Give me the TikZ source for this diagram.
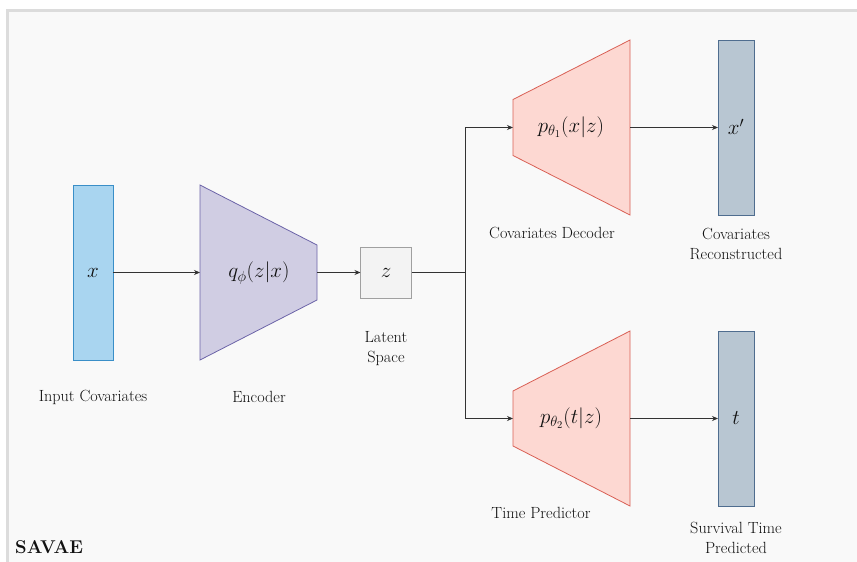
\RequirePackage{fix-cm}
\documentclass[tikz,border=0pt]{standalone}
\usetikzlibrary{arrows.meta,calc}
\definecolor{bgc}{HTML}{F9F9F9}
\definecolor{bgline}{HTML}{DCDCDC}
\definecolor{infill}{HTML}{A9D5F0}
\definecolor{inline}{HTML}{3A8FC8}
\definecolor{encfill}{HTML}{D0CDE3}
\definecolor{encline}{HTML}{6C64A8}
\definecolor{zfill}{HTML}{F3F3F3}
\definecolor{zline}{HTML}{A0A0A0}
\definecolor{decfill}{HTML}{FDD8D2}
\definecolor{decline}{HTML}{D96055}
\definecolor{outfill}{HTML}{B8C6D2}
\definecolor{outline}{HTML}{4F6D8F}
\definecolor{txt}{HTML}{111111}
\definecolor{arr}{HTML}{333333}
\begin{document}
\begin{tikzpicture}[x=1pt,y=-1pt,
  lbl/.style={font=\fontsize{16.2}{20}\selectfont, text=txt, align=center, inner sep=0pt},
  mth/.style={font=\fontsize{21}{24}\selectfont, text=txt, inner sep=0pt},
  ghost/.style={draw=none, inner sep=0pt, outer sep=0pt},
  conn/.style={draw=arr, line width=0.8pt, -{Stealth[length=6pt,width=5pt]}},
  plain/.style={draw=arr, line width=0.8pt}]
\useasboundingbox (0,0) rectangle (857,562);
\fill[white] (0,0) rectangle (857,562);
\fill[bgc] (7,10) rectangle (857,562);
\draw[bgline, line width=3pt] (7.5,562) -- (7.5,10.5) -- (857,10.5);

% input
\node[ghost, draw=inline, fill=infill, line width=0.8pt, minimum width=40pt, minimum height=175pt] (xin) at (93,272.5) {};
\node[mth] (xint) at (93,273) {$x$};
% encoder
\node[ghost, minimum width=117pt, minimum height=175pt] (enc) at (258.5,272.5) {};
\draw[draw=encline, fill=encfill, line width=0.8pt] (enc.north west) -- (317,245) -- (317,300) -- (enc.south west) -- cycle;
\node[mth] (enct) at (259,273) {$q_\phi(z|x)$};
% latent
\node[ghost, draw=zline, fill=zfill, line width=0.8pt, minimum width=51pt, minimum height=51pt] (z) at (386,272.5) {};
\node[mth] (zt) at (386,273) {$z$};
\coordinate (split) at (465,272.5);
% decoder
\node[ghost, minimum width=117pt, minimum height=175pt] (dec) at (571.5,127.5) {};
\draw[draw=decline, fill=decfill, line width=0.8pt] (513,99.5) -- (dec.north east) -- (dec.south east) -- (513,155.5) -- cycle;
\node[mth] (dect) at (571,127) {$p_{\theta_1}(x|z)$};
% time predictor
\node[ghost, minimum width=117pt, minimum height=175pt] (tp) at (571.5,418.5) {};
\draw[draw=decline, fill=decfill, line width=0.8pt] (513,391) -- (tp.north east) -- (tp.south east) -- (513,446) -- cycle;
\node[mth] (tpt) at (571,418) {$p_{\theta_2}(t|z)$};
% outputs
\node[ghost, draw=outline, fill=outfill, line width=0.8pt, minimum width=36pt, minimum height=175pt] (xout) at (736,127.5) {};
\node[mth] (xoutt) at (736,127) {$x'$};
\node[ghost, draw=outline, fill=outfill, line width=0.8pt, minimum width=36pt, minimum height=175pt] (tout) at (736,418.5) {};
\node[mth] (toutt) at (736,418) {$t$};

% connectors
\draw[conn] (xin.east) -- (enc.west);
\draw[conn] (enc.east) -- (z.west);
\draw[plain] (z.east) -- (split);
\draw[conn] (split) |- (513,127.5);
\draw[conn] (split) |- (513,418.5);
\draw[conn] (dec.east) -- (xout.west);
\draw[conn] (tp.east) -- (tout.west);

% labels
\node[lbl] (l1) at (93,397) {Input Covariates};
\node[lbl] (l2) at (259,397) {Encoder};
\node[lbl] (l3) at (386,349) {Latent\\Space};
\node[lbl] (l4) at (552,233) {Covariates Decoder};
\node[lbl] (l5) at (736,244) {Covariates\\Reconstructed};
\node[lbl] (l6) at (541,513) {Time Predictor};
\node[lbl] (l7) at (736,538) {Survival Time\\Predicted};
\node[anchor=west, inner sep=0pt, text=txt, font=\fontsize{18.5}{20}\selectfont\bfseries] (title) at (15,547) {SAVAE};
\end{tikzpicture}
\end{document}
